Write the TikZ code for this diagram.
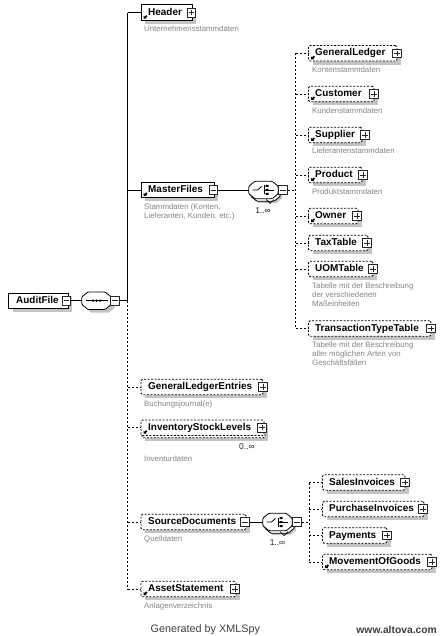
\documentclass[tikz,border=0pt]{standalone}
\usepackage{fontspec}
\setmainfont{Liberation Sans}
\usetikzlibrary{calc}
\definecolor{shade}{HTML}{C4C4C4}
\definecolor{desc}{HTML}{858585}
\definecolor{foot}{HTML}{404040}
\tikzset{
  x=1pt,y=-1pt,
  conn/.style={black,line width=0.8pt},
  dconn/.style={black,line width=0.8pt,dash pattern=on 2pt off 2pt},
  solidbox/.style={rectangle,draw=black,line width=0.9pt,fill=white,inner sep=0pt,minimum height=15.5pt},
  dashbox/.style={rectangle,draw=black,line width=0.9pt,dash pattern=on 2pt off 1.5pt,rounded corners=1.5pt,fill=white,inner sep=0pt,minimum height=15.5pt},
  shadowbox/.style={rectangle,fill=shade,inner sep=0pt,minimum height=15.5pt},
  elemtext/.style={anchor=west,inner sep=0pt,font=\bfseries\fontsize{9.95}{11}\selectfont,text height=7pt,text depth=2pt},
  desctext/.style={anchor=north west,inner sep=0pt,align=left,text=desc,font=\fontsize{7.85}{9}\selectfont},
  occurs/.style={inner sep=0pt,font=\fontsize{8.5}{9}\selectfont,text=black!85},
  pmbase/.style={rectangle,draw=black!85,line width=0.55pt,fill=white,minimum size=8.5pt,inner sep=0pt},
  pmplus/.style={pmbase,path picture={\draw[line width=0.5pt,black!85] ($(path picture bounding box.west)+(1.5,0)$)--($(path picture bounding box.east)+(-1.5,0)$) ($(path picture bounding box.north)+(0,1.5)$)--($(path picture bounding box.south)+(0,-1.5)$);}},
  pmminus/.style={pmbase,path picture={\draw[line width=0.5pt,black!85] ($(path picture bounding box.west)+(1.5,0)$)--($(path picture bounding box.east)+(-1.5,0)$);}},
  compnode/.style={rectangle,inner sep=0pt,minimum width=29pt,minimum height=17pt},
  octline/.style={draw=black,line width=0.8pt,fill=white,rounded corners=1pt},
  footer/.style={inner sep=0pt,text=foot,font=\fontsize{10.8}{12}\selectfont},
}
% id, x1, x2, cy, label, textx, pmx, pmstyle, boxstyle
\newcommand{\elem}[9]{%
  \node[shadowbox,minimum width=#3pt-#2pt] (#1-s) at ({(#2+#3)/2+4},#4+3.5) {};
  \node[#9,minimum width=#3pt-#2pt] (#1) at ({(#2+#3)/2},#4) {};
  \node[elemtext] (#1-t) at (#6,#4) {#5};
  \node[#8] (#1-pm) at (#7,#4) {};
}
\newcommand{\refmark}[2]{%
  \fill[black] (#1+2.5,#2+6) -- (#1+2.5,#2+3) -- (#1+3.6,#2+4) -- (#1+5.2,#2+2.4) -- (#1+6.4,#2+3.6) -- (#1+4.8,#2+5.2) -- (#1+5.6,#2+6) -- cycle;
}
% octagon outline around a node; #1 node name, #2 style
\newcommand{\octa}[2]{%
  \path[#2] ($(#1.north west)+(6,0)$) -- ($(#1.north east)+(-6,0)$) -- ($(#1.north east)+(0,5)$) -- ($(#1.south east)+(0,-5)$) -- ($(#1.south east)+(-6,0)$) -- ($(#1.south west)+(6,0)$) -- ($(#1.south west)+(0,-5)$) -- ($(#1.north west)+(0,5)$) -- cycle;
}
% id, x, y, text
\newcommand{\descr}[4]{\node[desctext] (#1) at (#2,#3-4) {#4};}
\newcommand{\seqicon}[1]{%
  \draw[line width=0.8pt] ($(#1)+(-11,0)$) -- ($(#1)+(11,0)$);
  \fill ($(#1)+(-3.5,0)$) circle (1.3pt) ($(#1)+(0,0)$) circle (1.3pt) ($(#1)+(3.5,0)$) circle (1.3pt);
}
\newcommand{\choiceicon}[1]{%
  \draw[line width=0.8pt] ($(#1)+(-11,0)$) -- ($(#1)+(-6,0)$) -- ($(#1)+(-2,-3.5)$);
  \draw[line width=0.8pt] ($(#1)+(1,-4.5)$) -- ($(#1)+(1,4.5)$) ($(#1)+(1,0)$) -- ($(#1)+(10,0)$);
  \fill ($(#1)+(2,-5)$) rectangle ($(#1)+(5,-3)$) ($(#1)+(2,-1)$) rectangle ($(#1)+(5,1)$) ($(#1)+(2,3)$) rectangle ($(#1)+(5,5)$);
}
\begin{document}
\begin{tikzpicture}
\useasboundingbox[fill=white] (0,0) rectangle (444,636);
% named spine positions
\coordinate (spineA) at (127.5,0);
\coordinate (spineB) at (295.5,0);
\coordinate (spineC) at (309,0);
% connectors: first level
\node[compnode] (seq) at (96.5,300.7) {};
\node[compnode] (seq-s) at (100,304) {};
\node[compnode] (ch1) at (263.5,190) {};
\node[compnode] (ch1-b) at (265.5,192.5) {};
\node[compnode] (ch1-s) at (267.5,194.5) {};
\node[compnode] (ch2) at (277.5,522) {};
\node[compnode] (ch2-b) at (279.5,524.5) {};
\node[compnode] (ch2-s) at (281.5,526.5) {};
% root and first sequence
\octa{seq-s}{fill=shade}
\elem{AuditFile}{8.5}{68}{300.7}{AuditFile}{16}{66.5}{pmminus}{solidbox}
\octa{seq}{octline}
\seqicon{seq}
\node[pmminus] (seq-pm) at (115,300.7) {};
% first level
\elem{Header}{141}{192}{12.7}{Header}{148}{191.5}{pmplus}{solidbox}
\elem{MasterFiles}{141}{214}{190}{MasterFiles}{148}{213.5}{pmminus}{solidbox}
\elem{GLE}{141}{263}{387}{GeneralLedgerEntries}{148}{263}{pmplus}{dashbox}
\node[shadowbox,minimum width=123pt] (ISL-s) at (206,433) {};
\node[dashbox,minimum width=123pt] (ISL-back) at (203.5,430) {};
\node[dashbox,minimum width=123pt,fill=white] (ISL) at (202.5,427.7) {};
\node[elemtext] (ISL-t) at (148,427.7) {InventoryStockLevels};
\node[pmplus] (ISL-pm) at (262,427.7) {};
\elem{SD}{141}{246}{522}{SourceDocuments}{148}{245}{pmminus}{dashbox}
\elem{AS}{141}{236}{589}{AssetStatement}{148}{235}{pmplus}{dashbox}
% masterfiles choice
\octa{ch1-s}{fill=shade}
\octa{ch1-b}{octline}
\octa{ch1}{octline}
\choiceicon{ch1}
\node[pmminus] (ch1-pm) at (283,190) {};
\draw[line width=0.7pt] (266,199.5) -- (270,203.5) -- (274,199.5);
\node[occurs] (ch1-o) at (263,210.5) {1..∞};
% master files children
\elem{GL}{308.5}{397}{53.3}{GeneralLedger}{315}{397}{pmplus}{dashbox}
\elem{Cu}{308.5}{374}{94}{Customer}{315}{374}{pmplus}{dashbox}
\elem{Su}{308.5}{362}{135}{Supplier}{315}{365}{pmplus}{dashbox}
\elem{Pr}{308.5}{362}{175}{Product}{315}{363}{pmplus}{dashbox}
\elem{Ow}{308.5}{358}{216}{Owner}{315}{357}{pmplus}{dashbox}
\elem{Tax}{308.5}{368}{243}{TaxTable}{315}{367}{pmplus}{dashbox}
\elem{UOM}{308.5}{373}{269}{UOMTable}{315}{373}{pmplus}{dashbox}
\elem{TT}{308.5}{431}{328.5}{TransactionTypeTable}{315}{431}{pmplus}{dashbox}
% source documents choice
\octa{ch2-s}{fill=shade}
\octa{ch2-b}{octline}
\octa{ch2}{octline}
\choiceicon{ch2}
\node[pmminus] (ch2-pm) at (297,522) {};
\draw[line width=0.7pt] (280,531.5) -- (284,535.5) -- (288,531.5);
\node[occurs] (ch2-o) at (277.5,543) {1..∞};
% source documents children
\elem{SI}{322.5}{405}{482.5}{SalesInvoices}{329}{405}{pmplus}{dashbox}
\elem{PI}{322.5}{424}{509}{PurchaseInvoices}{329}{423}{pmplus}{dashbox}
\elem{Pa}{322.5}{387}{535.5}{Payments}{329}{387}{pmplus}{dashbox}
\elem{MG}{322.5}{432}{562}{MovementOfGoods}{329}{432}{pmplus}{dashbox}
% reference arrows
\refmark{141}{12.7}
\refmark{141}{190}
\refmark{141}{427.7}
\refmark{141}{589}
\refmark{308.5}{53.3}
\refmark{308.5}{94}
\refmark{308.5}{135}
\refmark{308.5}{175}
\refmark{308.5}{216}
\refmark{322.5}{562}
% occurrence
\node[occurs] (ISL-o) at (247,447) {0..∞};
% descriptions
\descr{d1}{144}{30}{Unternehmensstammdaten}
\descr{d2}{144}{208}{Stammdaten (Konten,\\Lieferanten, Kunden, etc.)}
\descr{d3}{144}{405}{Buchungsjournal(e)}
\descr{d4}{144}{460}{Inventurdaten}
\descr{d5}{144}{540}{Quelldaten}
\descr{d6}{144}{607}{Anlagenverzeichnis}
\descr{d7}{312}{71}{Kontenstammdaten}
\descr{d8}{312}{112}{Kundenstammdaten}
\descr{d9}{312}{152}{Lieferantenstammdaten}
\descr{d10}{312}{193}{Produktstammdaten}
\descr{d11}{312}{287}{Tabelle mit der Beschreibung\\der verschiedenen\\Maßeinheiten}
\descr{d12}{312}{346}{Tabelle mit der Beschreibung\\aller möglichen Arten von\\Geschäftsfällen}
% footer
\node[footer,anchor=west] (f1) at (150.5,630) {Generated by XMLSpy};
\node[footer,anchor=east,font=\bfseries\fontsize{10.3}{12}\selectfont] (f2) at (437,630) {www.altova.com};
% connectors
\draw[conn] (AuditFile-pm) -- (seq.west);
\draw[conn] (seq.east) -- (seq-pm);
\draw[conn] (seq-pm) -- (spineA |- seq-pm);
\draw[conn] (spineA |- Header) -- (spineA |- seq-pm);
\draw[conn] (spineA |- Header) -- (Header);
\draw[conn] (spineA |- MasterFiles) -- (MasterFiles);
\draw[dconn] (spineA |- seq-pm) -- (spineA |- AS);
\foreach \n in {GLE,ISL,SD,AS} \draw[dconn] (spineA |- \n) -- (\n);
\draw[conn] (MasterFiles-pm) -- (ch1.west);
\draw[conn] (ch1.east) -- (ch1-pm);
\draw[dconn] (ch1-pm) -- (spineB |- ch1-pm);
\draw[dconn] (spineB |- GL) -- (spineB |- TT);
\foreach \n in {GL,Cu,Su,Pr,Ow,Tax,UOM,TT} \draw[dconn] (spineB |- \n) -- (\n);
\draw[conn] (SD-pm) -- (ch2.west);
\draw[conn] (ch2.east) -- (ch2-pm);
\draw[dconn] (ch2-pm) -- (spineC |- ch2-pm);
\draw[dconn] (spineC |- SI) -- (spineC |- MG);
\foreach \n in {SI,PI,Pa,MG} \draw[dconn] (spineC |- \n) -- (\n);
\end{tikzpicture}
\end{document}
